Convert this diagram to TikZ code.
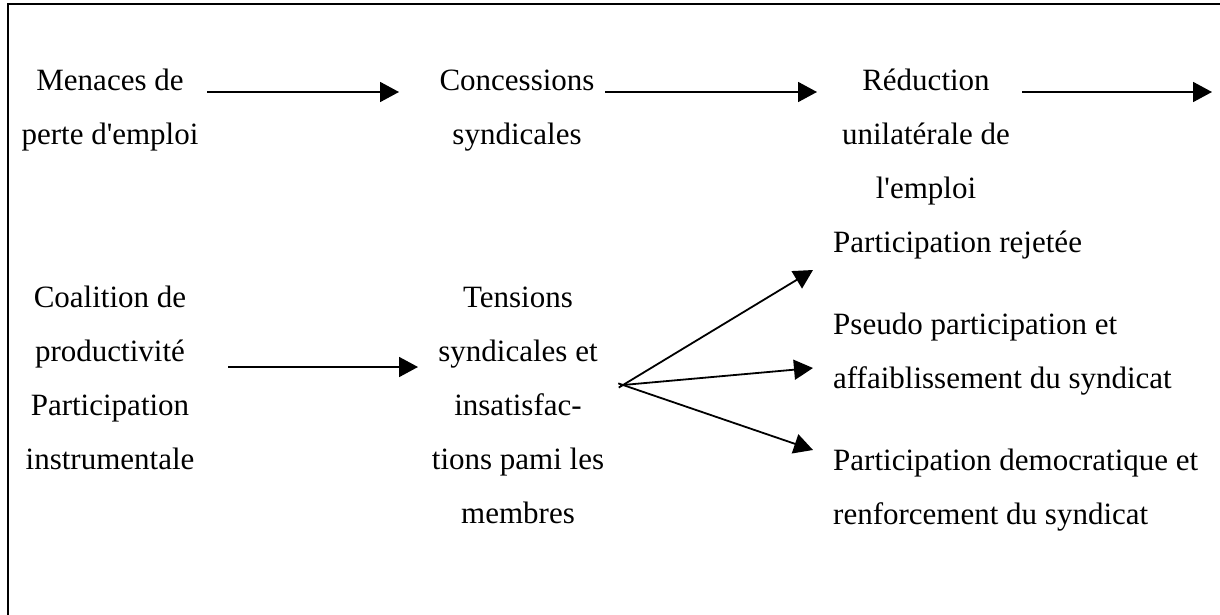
\documentclass[tikz,border=0pt]{standalone}
\usepackage{fontspec}
\setmainfont{Liberation Serif}
\usetikzlibrary{arrows.meta,calc}
\begin{document}
\begin{tikzpicture}[x=1pt,y=-1pt,
  txt/.style={font=\fontsize{31}{54}\selectfont, inner sep=0pt, align=center, anchor=base},
  ltxt/.style={font=\fontsize{31}{54}\selectfont, inner sep=0pt, align=left, anchor=base west},
  arr/.style={line width=1.8pt, -{Triangle[length=19pt,width=20pt]}},
  frame/.style={line width=2pt}]
\useasboundingbox (0,0) rectangle (1220,615);
\clip (0,0) rectangle (1220,615);
\draw[frame] (8,4) rectangle (1240,640);
% top row (anchor = baseline of last line)
\node[txt] (menaces) at (110,144) {Menaces de\\perte d\textquotesingle emploi};
\node[txt] (concessions) at (517,144) {Concessions\\syndicales};
\node[txt] (reduction) at (926,198) {Réduction\\unilatérale de\\l\textquotesingle emploi};
\node[ltxt] (rejetee) at (833,252) {Participation rejetée};
% bottom row
\node[txt] (coalition) at (110,469) {Coalition de\\productivité\\Participation\\instrumentale};
\node[txt] (tensions) at (518,523) {Tensions\\syndicales et\\insatisfac-\\tions pami les\\membres};
\node[ltxt] (pseudo) at (833,388) {Pseudo participation et\\affaiblissement du syndicat};
\node[ltxt] (democ) at (833,524) {Participation democratique et\\renforcement du syndicat};
% connectors
\coordinate (a1s) at (207,92); \coordinate (a1e) at (399,92);
\coordinate (a2s) at (605,92); \coordinate (a2e) at (817,92);
\coordinate (a3s) at (1022,92); \coordinate (a3e) at (1212,92);
\coordinate (a4s) at (228,367); \coordinate (a4e) at (418,367);
\coordinate (fan) at (623,385);
\coordinate (f1) at (813,270); \coordinate (f2) at (813,368); \coordinate (f3) at (813,450);
\draw[arr] (a1s) -- (a1e);
\draw[arr] (a2s) -- (a2e);
\draw[arr] (a3s) -- (a3e);
\draw[arr] (a4s) -- (a4e);
\draw[arr] ($(fan)!-5pt!(f1)$) -- (f1);
\draw[arr] ($(fan)!-3pt!(f2)$) -- (f2);
\draw[arr] ($(fan)!-5pt!(f3)$) -- (f3);
\end{tikzpicture}
\end{document}
